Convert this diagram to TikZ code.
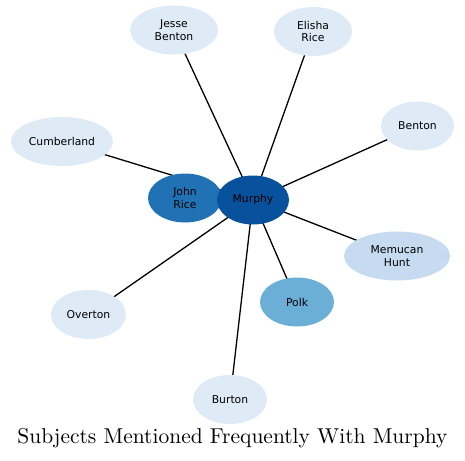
\documentclass[tikz,border=0pt]{standalone}
\usepackage{fontspec}
\newfontfamily\dejavu{DejaVu Sans}
\usetikzlibrary{shapes.geometric,backgrounds}
\definecolor{deep}{HTML}{08519C}
\definecolor{mid}{HTML}{2171B5}
\definecolor{light}{HTML}{6BAED6}
\definecolor{pale}{HTML}{C6DBEF}
\definecolor{faint}{HTML}{DEEBF7}

\begin{document}
\begin{tikzpicture}[x=1pt,y=-1pt,
  subj/.style={ellipse,inner sep=0pt,minimum width=74pt,minimum height=49pt,fill=faint,
    align=center,font=\dejavu\fontsize{10.8}{12.5}\selectfont},
  link/.style={line width=1.3pt,black}]
\useasboundingbox (0,0) rectangle (465,460);
\node[subj,minimum width=88pt] (jesse) at (174,30) {Jesse\\Benton};
\node[subj,minimum width=78pt] (elisha) at (313,31.5) {Elisha\\Rice};
\node[subj,minimum width=73pt] (benton) at (417.5,126) {Benton};
\node[subj,minimum width=102pt] (cumberland) at (62,141.5) {Cumberland};
\node[subj,fill=mid] (johnrice) at (185,198) {John\\Rice};
\node[subj,fill=deep,minimum width=72pt] (murphy) at (253,200) {Murphy};
\node[subj,fill=pale,minimum width=106pt] (memucan) at (397,256) {Memucan\\Hunt};
\node[subj,minimum width=75pt] (overton) at (88.5,314.5) {Overton};
\node[subj,fill=light] (polk) at (297,302) {Polk};
\node[subj] (burton) at (230,399.5) {Burton};
\node (title) at (232.5,438) {\scalebox{2.15}{Subjects Mentioned Frequently With Murphy}};
% edges go under the nodes
\begin{scope}[on background layer]
\foreach \s in {jesse,elisha,benton,cumberland,memucan,overton,polk,burton}
  \draw[link] (murphy.center) -- (\s.center);
\end{scope}
\end{tikzpicture}
\end{document}
